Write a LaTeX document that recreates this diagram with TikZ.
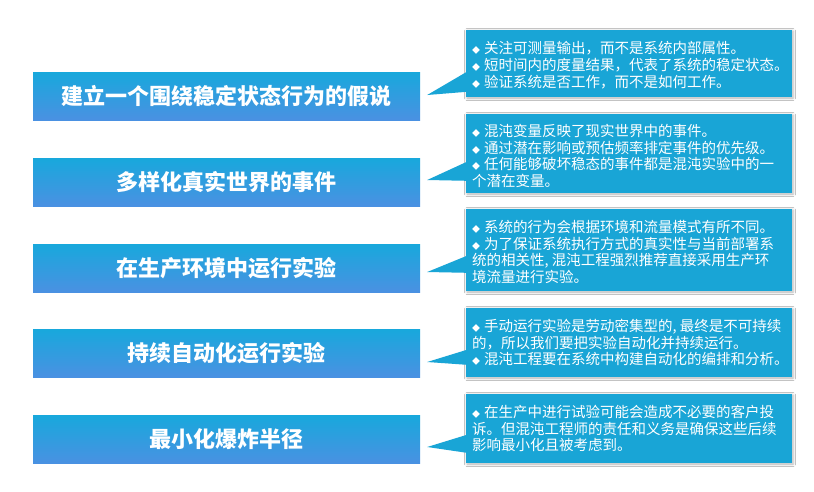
\documentclass[tikz,border=0pt]{standalone}
\usepackage{fontspec}
\setmainfont{Noto Sans CJK SC}
\usetikzlibrary{calc,shadows.blur}
\definecolor{ltop}{RGB}{24,168,220}
\definecolor{lbot}{RGB}{74,145,226}
\definecolor{rcol}{RGB}{25,165,214}
\newcommand{\bul}{{\fontsize{8pt}{8pt}\selectfont ◆}\hspace{4pt}}
\begin{document}
\begin{tikzpicture}[x=1pt,y=-1pt,
  lbox/.style={minimum width=387pt,minimum height=48pt,inner sep=0pt,
    top color=ltop,bottom color=lbot,text=white,
    font=\fontsize{22pt}{24pt}\selectfont\bfseries},
  rbox/.style={minimum width=326pt,inner sep=0pt,fill=rcol,
    blur shadow={shadow xshift=1pt,shadow yshift=-1pt,shadow blur radius=2.5pt,shadow opacity=30}},
  rtext/.style={anchor=west,inner sep=0pt,align=left,text=white,
    font=\fontsize{14.5pt}{16.8pt}\selectfont},
  ptr/.style={fill=rcol}]
\useasboundingbox[fill=white] (0,0) rectangle (814,491);
% left boxes
\node[lbox] (L1) at (226.5,96) {建立一个围绕稳定状态行为的假说};
\node[lbox] (L2) at (226.5,182) {多样化真实世界的事件};
\node[lbox] (L3) at (226.5,268) {在生产环境中运行实验};
\node[lbox] (L4) at (226.5,353) {持续自动化运行实验};
\node[lbox] (L5) at (226.5,439.5) {最小化爆炸半径};
% right boxes
\node[rbox,minimum height=67pt] (R1) at (629,63.5) {};
\node[rbox,minimum height=79pt] (R2) at (629,153.5) {};
\node[rbox,minimum height=82pt] (R3) at (629,250) {};
\node[rbox,minimum height=69pt] (R4) at (629,342.5) {};
\node[rbox,minimum height=69pt] (R5) at (629,428.5) {};
% pointers
\coordinate (T1) at ($(L1.east)+(7,-1)$);
\coordinate (T2) at ($(L2.east)+(7,-2)$);
\coordinate (T3) at ($(L3.east)+(7,4)$);
\coordinate (T4) at ($(L4.east)+(7,9)$);
\coordinate (T5) at ($(L5.east)+(7,7.5)$);
\fill[ptr] (T1) -- ($(R1.north west)+(1,42)$) -- ($(R1.north west)+(1,62)$) -- cycle;
\fill[ptr] (T2) -- ($(R2.north west)+(1,48)$) -- ($(R2.north west)+(1,67)$) -- cycle;
\fill[ptr] (T3) -- ($(R3.north west)+(1,47)$) -- ($(R3.north west)+(1,64)$) -- cycle;
\fill[ptr] (T4) -- ($(R4.north west)+(1,42)$) -- ($(R4.north west)+(1,57)$) -- cycle;
\fill[ptr] (T5) -- ($(R5.north west)+(1,41)$) -- ($(R5.north west)+(1,59)$) -- cycle;
% right texts
\node[rtext] (X1) at ($(R1.west)+(6,1.5)$) {\bul 关注可测量输出，而不是系统内部属性。\\
\bul 短时间内的度量结果，代表了系统的稳定状态。\\
\bul 验证系统是否工作，而不是如何工作。};
\node[rtext] (X2) at ($(R2.west)+(6,2.5)$) {\bul 混沌变量反映了现实世界中的事件。\\
\bul 通过潜在影响或预估频率排定事件的优先级。\\
\bul 任何能够破坏稳态的事件都是混沌实验中的一\\
个潜在变量。};
\node[rtext] (X3) at ($(R3.west)+(6,2)$) {\bul 系统的行为会根据环境和流量模式有所不同。\\
\bul 为了保证系统执行方式的真实性与当前部署系\\
统的相关性, 混沌工程强烈推荐直接采用生产环\\
境流量进行实验。};
\node[rtext] (X4) at ($(R4.west)+(6,0)$) {\bul 手动运行实验是劳动密集型的, 最终是不可持续\\
的，所以我们要把实验自动化并持续运行。\\
\bul 混沌工程要在系统中构建自动化的编排和分析。};
\node[rtext] (X5) at ($(R5.west)+(6,0)$) {\bul 在生产中进行试验可能会造成不必要的客户投\\
诉。但混沌工程师的责任和义务是确保这些后续\\
影响最小化且被考虑到。};
\end{tikzpicture}
\end{document}
